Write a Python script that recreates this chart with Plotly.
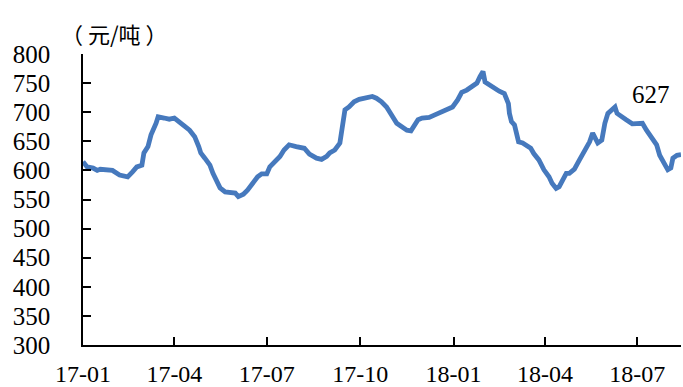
import plotly.graph_objects as go

# Daily price series (元/吨)
dates = [
    "2017-01-01", "2017-01-05", "2017-01-11", "2017-01-15", "2017-01-18", "2017-01-24",
    "2017-01-30", "2017-02-06", "2017-02-14", "2017-02-19", "2017-02-23", "2017-02-28",
    "2017-03-02", "2017-03-06", "2017-03-09", "2017-03-14", "2017-03-16", "2017-03-22",
    "2017-03-27", "2017-04-01", "2017-04-06", "2017-04-11", "2017-04-16", "2017-04-21",
    "2017-04-25", "2017-04-27", "2017-05-01", "2017-05-06", "2017-05-09", "2017-05-13",
    "2017-05-16", "2017-05-21", "2017-05-26", "2017-05-31", "2017-06-03", "2017-06-08",
    "2017-06-12", "2017-06-17", "2017-06-22", "2017-06-26", "2017-07-01", "2017-07-04",
    "2017-07-09", "2017-07-14", "2017-07-18", "2017-07-23", "2017-07-30", "2017-08-04",
    "2017-08-07", "2017-08-12", "2017-08-19", "2017-08-24", "2017-08-29", "2017-09-01",
    "2017-09-06", "2017-09-11", "2017-09-14", "2017-09-16", "2017-09-20", "2017-09-25",
    "2017-09-30", "2017-10-07", "2017-10-13", "2017-10-17", "2017-10-22", "2017-10-27",
    "2017-11-01", "2017-11-06", "2017-11-11", "2017-11-16", "2017-11-20", "2017-11-23",
    "2017-11-27", "2017-12-01", "2017-12-08", "2017-12-13", "2017-12-19", "2017-12-26",
    "2017-12-31", "2018-01-05", "2018-01-09", "2018-01-14", "2018-01-19", "2018-01-24",
    "2018-01-27", "2018-01-30", "2018-02-01", "2018-02-05", "2018-02-10", "2018-02-15",
    "2018-02-20", "2018-02-24", "2018-02-25", "2018-02-27", "2018-03-02", "2018-03-04",
    "2018-03-06", "2018-03-10", "2018-03-14", "2018-03-18", "2018-03-21", "2018-03-26",
    "2018-03-31", "2018-04-05", "2018-04-08", "2018-04-12", "2018-04-15", "2018-04-18",
    "2018-04-22", "2018-04-25", "2018-04-30", "2018-05-05", "2018-05-10", "2018-05-15",
    "2018-05-18", "2018-05-21", "2018-05-23", "2018-05-27", "2018-05-30", "2018-06-02",
    "2018-06-06", "2018-06-09", "2018-06-11", "2018-06-15", "2018-06-20", "2018-06-26",
    "2018-07-03", "2018-07-06", "2018-07-10", "2018-07-15", "2018-07-20", "2018-07-23",
    "2018-07-27", "2018-07-31", "2018-08-03", "2018-08-05", "2018-08-09", "2018-08-13",
]
prices = [
    615, 606, 604, 600, 602, 602,
    600, 592, 589, 598, 606, 609,
    630, 641, 661, 681, 692, 690,
    688, 690, 684, 676, 669, 658,
    641, 630, 621, 609, 595, 581,
    570, 563, 562, 561, 555, 559,
    566, 578, 589, 594, 594, 606,
    615, 624, 635, 644, 641, 638,
    638, 628, 621, 619, 624, 630,
    635, 647, 675, 704, 709, 718,
    722, 724, 727, 724, 718, 709,
    695, 681, 675, 669, 668, 675,
    687, 690, 691, 695, 699, 704,
    709, 721, 734, 738, 743, 750,
    761, 770, 752, 747, 741, 736,
    732, 715, 698, 684, 678, 664,
    649, 647, 642, 638, 629, 618,
    601, 589, 578, 569, 572, 584,
    595, 595, 602, 618, 635, 649,
    664, 655, 647, 652, 681, 698,
    705, 709, 698, 692, 687, 680,
    682, 681, 669, 655, 644, 626,
    612, 601, 604, 621, 626, 627,
]

tick_dates = ["2017-01-01", "2017-04-01", "2017-07-01", "2017-10-01",
              "2018-01-01", "2018-04-01", "2018-07-01"]
tick_text = ["17-01", "17-04", "17-07", "17-10", "18-01", "18-04", "18-07"]
y_ticks = list(range(300, 801, 50))

serif = "Liberation Serif"
cjk = "Noto Sans CJK SC"

fig = go.Figure()
fig.add_trace(go.Scatter(
    x=dates, y=prices, mode="lines",
    line=dict(color="#4679BD", width=4.8),
    hoverinfo="skip", showlegend=False,
))

# Latest value label
fig.add_annotation(
    x="2018-07-14", y=730, text=str(prices[-1]), showarrow=False,
    font=dict(family=serif, size=25, color="black"),
    xanchor="center", yanchor="middle",
)
# Unit label
fig.add_annotation(
    x=0.052, y=1.0, xref="paper", yref="paper", yshift=21,
    text="（ 元/吨 ）", showarrow=False,
    font=dict(family=cjk, size=22, color="black"),
    xanchor="center", yanchor="middle",
)

fig.update_layout(
    width=683, height=387,
    margin=dict(l=83, r=2, t=54, b=42),
    paper_bgcolor="white", plot_bgcolor="white",
    font=dict(family=serif, color="black"),
)
fig.update_xaxes(
    type="date", range=["2017-01-01", "2018-08-13"],
    tickvals=tick_dates, ticktext=tick_text,
    showgrid=False, zeroline=False, automargin=False,
    showline=True, linecolor="black", linewidth=1.5,
    ticks="inside", ticklen=8, tickwidth=1.5, tickcolor="black",
    tickfont=dict(family=serif, size=24, color="black"),
    ticklabelstandoff=6,
)
fig.update_yaxes(
    range=[300, 800], tickvals=y_ticks,
    showgrid=False, zeroline=False, automargin=False,
    showline=True, linecolor="black", linewidth=1.5,
    ticks="inside", ticklen=8, tickwidth=1.5, tickcolor="black",
    tickfont=dict(family=serif, size=25, color="black"),
    ticklabelstandoff=26,
)

fig.write_html("out.html")
